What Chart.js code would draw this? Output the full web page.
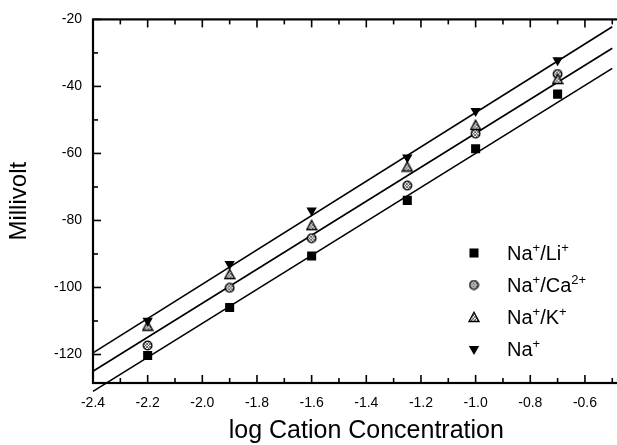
<!DOCTYPE html>
<html>
<head>
<meta charset="utf-8">
<script src="https://cdn.jsdelivr.net/npm/chart.js@4.4.1/dist/chart.umd.min.js"></script>
<style>
    html, body { margin: 0; padding: 0; background: #fff; overflow: hidden; }
    #wrap { width: 646px; height: 445px; }
</style>
</head>
<body>
<div id="wrap"><canvas id="grafico" width="646" height="445"></canvas></div>
<script>
// --- 1. DATOS ---
const logConc = [-2.2, -1.9, -1.6, -1.25, -1.0, -0.7];
const mvLi = [-120.3, -106.0, -90.6, -74.0, -58.6, -42.3];
const mvCa = [-117.3, -100.1, -85.3, -69.6, -54.1, -36.3];
const mvK  = [-111.4, -96.0, -81.4, -63.9, -51.5, -37.8];
const mvNa = [-109.9, -93.0, -77.0, -61.2, -47.3, -32.2];

// rectas de ajuste (extremos)
const fitX   = [-2.4, -0.5];
const fitTop = [-119.5, -22.2];
const fitMid = [-125.0, -28.6];
const fitBot = [-131.0, -34.6];

const legendLabels = ['Na^+/Li^+', 'Na^+/Ca^{2+}', 'Na^+/K^+', 'Na^+'];

const xTicks = [-2.4, -2.2, -2.0, -1.8, -1.6, -1.4, -1.2, -1.0, -0.8, -0.6];
const xMinor = [-2.3, -2.1, -1.9, -1.7, -1.5, -1.3, -1.1, -0.9, -0.7, -0.5];
const yTicks = [-120, -100, -80, -60, -40, -20];
const yMinor = [-110, -90, -70, -50, -30];

const X_MIN = -2.4, X_MAX = -0.4;
const Y_MIN = -128.5, Y_MAX = -20;

const FUENTE = "'Liberation Sans', Arial, sans-serif";

// --- 2. MARCADORES ---
function circuloRayado() {
    const c = document.createElement('canvas');
    c.width = 11; c.height = 11;
    const ctx = c.getContext('2d');
    ctx.fillStyle = '#fff';
    ctx.beginPath();
    ctx.arc(5.5, 5.5, 4.3, 0, 2 * Math.PI);
    ctx.fill();
    ctx.save();
    ctx.clip();
    ctx.strokeStyle = '#000';
    ctx.lineWidth = 0.6;
    for (let k = -11; k < 22; k += 3) {
        ctx.beginPath();
        ctx.moveTo(k, 0); ctx.lineTo(k + 11, 11);
        ctx.moveTo(k + 11, 0); ctx.lineTo(k, 11);
        ctx.stroke();
    }
    ctx.restore();
    ctx.beginPath();
    ctx.arc(5.5, 5.5, 4.3, 0, 2 * Math.PI);
    ctx.lineWidth = 1.3;
    ctx.strokeStyle = '#000';
    ctx.stroke();
    return c;
}

function trianguloRayado() {
    const c = document.createElement('canvas');
    c.width = 12; c.height = 12;
    const ctx = c.getContext('2d');
    const tri = () => {
        ctx.beginPath();
        ctx.moveTo(6, 1.2); ctx.lineTo(11, 10.5); ctx.lineTo(1, 10.5); ctx.closePath();
    };
    ctx.fillStyle = '#fff';
    tri(); ctx.fill();
    ctx.save();
    tri(); ctx.clip();
    ctx.strokeStyle = '#000';
    ctx.lineWidth = 0.6;
    for (let k = -12; k < 24; k += 3.2) {
        ctx.beginPath();
        ctx.moveTo(k, 0); ctx.lineTo(k + 12, 12);
        ctx.moveTo(k + 12, 0); ctx.lineTo(k, 12);
        ctx.stroke();
    }
    ctx.restore();
    tri();
    ctx.lineWidth = 1.3;
    ctx.strokeStyle = '#000';
    ctx.stroke();
    return c;
}

const imgCa = circuloRayado();
const imgK = trianguloRayado();

const estilos = [
    { pointStyle: 'rect', radius: 6.4, rotation: 0, backgroundColor: '#000', borderColor: '#000', borderWidth: 0 },
    { pointStyle: imgCa, radius: 5, rotation: 0, backgroundColor: '#000', borderColor: '#000', borderWidth: 0 },
    { pointStyle: imgK, radius: 6, rotation: 0, backgroundColor: '#000', borderColor: '#000', borderWidth: 0 },
    { pointStyle: 'triangle', radius: 6, rotation: 180, backgroundColor: '#000', borderColor: '#000', borderWidth: 0 }
];

const serie = (xs, ys) => xs.map((x, i) => ({ x, y: ys[i] }));

function datasetPuntos(ys, i) {
    const e = estilos[i];
    return {
        data: serie(logConc, ys),
        showLine: false,
        pointStyle: e.pointStyle,
        pointRadius: e.radius,
        pointRotation: e.rotation,
        pointBackgroundColor: e.backgroundColor,
        pointBorderColor: e.borderColor,
        pointBorderWidth: e.borderWidth
    };
}

function datasetRecta(ys) {
    return {
        data: serie(fitX, ys),
        showLine: true,
        borderColor: '#000',
        borderWidth: 1.6,
        pointRadius: 0,
        clip: false
    };
}

// --- 3. PLUGINS ---
const marcoEjes = {
    id: 'marcoEjes',
    afterDatasetsDraw(chart) {
        const { ctx, chartArea: a, scales: { x, y } } = chart;
        ctx.save();
        ctx.strokeStyle = '#000';
        ctx.lineWidth = 2.2;
        ctx.strokeRect(a.left, a.top, a.right - a.left, a.bottom - a.top);
        ctx.lineWidth = 1.6;
        const marca = (px, py, dx, dy) => {
            ctx.beginPath(); ctx.moveTo(px, py); ctx.lineTo(px + dx, py + dy); ctx.stroke();
        };
        xTicks.forEach(v => { const p = x.getPixelForValue(v); marca(p, a.bottom, 0, -8); marca(p, a.top, 0, 8); });
        xMinor.forEach(v => { const p = x.getPixelForValue(v); marca(p, a.bottom, 0, -5); marca(p, a.top, 0, 5); });
        yTicks.forEach(v => { const p = y.getPixelForValue(v); marca(a.left, p, 8, 0); marca(a.right, p, -8, 0); });
        yMinor.forEach(v => { const p = y.getPixelForValue(v); marca(a.left, p, 5, 0); marca(a.right, p, -5, 0); });
        ctx.restore();
    }
};

function textoConSuper(ctx, str, x, y) {
    const re = /\^\{([^}]*)\}|\^(.)|([^^]+)/g;
    let m;
    while ((m = re.exec(str)) !== null) {
        const sup = m[1] !== undefined ? m[1] : m[2];
        if (sup !== undefined) {
            ctx.font = `13px ${FUENTE}`;
            ctx.fillText(sup, x, y - 8);
            x += ctx.measureText(sup).width;
        } else {
            ctx.font = `20px ${FUENTE}`;
            ctx.fillText(m[3], x, y);
            x += ctx.measureText(m[3]).width;
        }
    }
}

const leyenda = {
    id: 'leyenda',
    afterDraw(chart) {
        const ctx = chart.ctx;
        ctx.save();
        ctx.textBaseline = 'alphabetic';
        legendLabels.forEach((txt, i) => {
            const yy = 253 + i * 32;
            const e = estilos[i];
            ctx.fillStyle = e.backgroundColor;
            ctx.strokeStyle = e.borderColor;
            ctx.lineWidth = e.borderWidth;
            Chart.helpers.drawPoint(ctx, e, 474, yy);
            ctx.fillStyle = '#000';
            textoConSuper(ctx, txt, 507, yy + 7);
        });
        ctx.restore();
    }
};

// --- 4. GRAFICO ---
new Chart(document.getElementById('grafico'), {
    type: 'scatter',
    data: {
        datasets: [
            datasetPuntos(mvNa, 3),
            datasetPuntos(mvK, 2),
            datasetPuntos(mvCa, 1),
            datasetPuntos(mvLi, 0),
            datasetRecta(fitTop),
            datasetRecta(fitMid),
            datasetRecta(fitBot)
        ]
    },
    options: {
        responsive: false,
        animation: false,
        events: [],
        layout: { padding: { top: 17, left: 0, right: 0, bottom: 0 } },
        plugins: { legend: { display: false }, tooltip: { enabled: false } },
        scales: {
            x: {
                type: 'linear',
                min: X_MIN,
                max: X_MAX,
                afterBuildTicks: s => { s.ticks = xTicks.map(v => ({ value: v })); },
                afterFit: s => { s.height = 62; },
                grid: { display: false, drawTicks: false },
                border: { display: false },
                ticks: {
                    color: '#000',
                    padding: 12,
                    maxRotation: 0,
                    font: { family: FUENTE, size: 14 },
                    callback: v => v.toFixed(1)
                },
                title: {
                    display: true,
                    text: 'log Cation Concentration',
                    color: '#000',
                    font: { family: FUENTE, size: 25 },
                    padding: { top: 0, bottom: -1 }
                }
            },
            y: {
                type: 'linear',
                min: Y_MIN,
                max: Y_MAX,
                afterBuildTicks: s => { s.ticks = yTicks.map(v => ({ value: v })); },
                afterFit: s => { s.width = 93; },
                grid: { display: false, drawTicks: false },
                border: { display: false },
                ticks: {
                    color: '#000',
                    padding: 11,
                    font: { family: FUENTE, size: 14 },
                    callback: v => String(v)
                },
                title: {
                    display: true,
                    text: 'Millivolt',
                    color: '#000',
                    font: { family: FUENTE, size: 24 },
                    padding: { top: 5, bottom: 0 }
                }
            }
        }
    },
    plugins: [marcoEjes, leyenda]
});
</script>
</body>
</html>
